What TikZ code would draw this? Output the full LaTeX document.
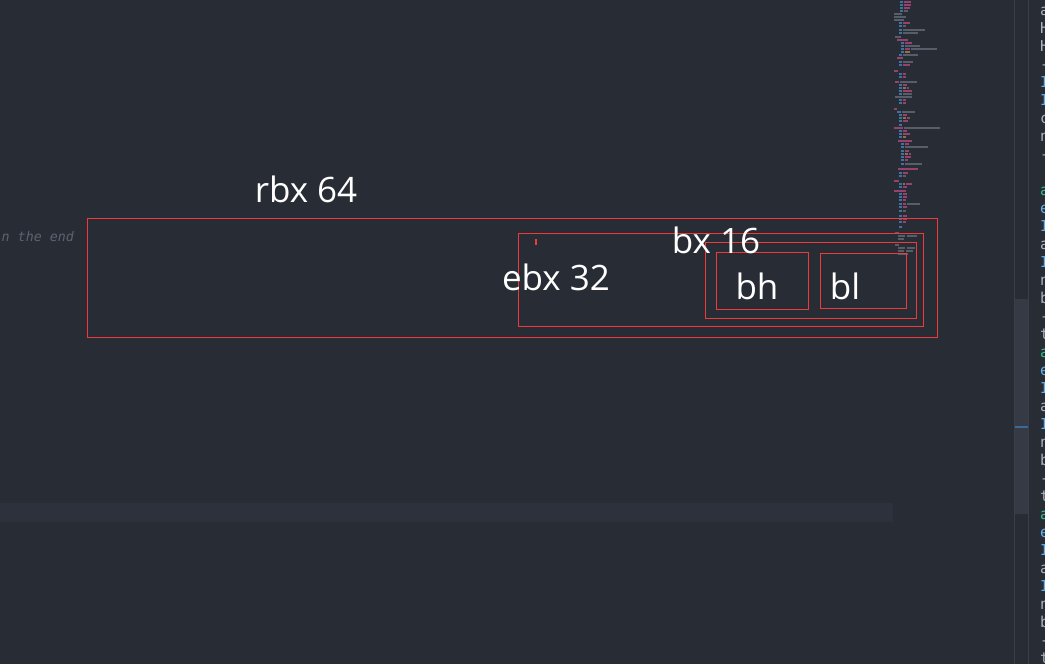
\documentclass[tikz,border=0pt]{standalone}
\usepackage{fontspec}
\newfontfamily\labfont{Open Sans}
\newfontfamily\codefont{DejaVu Sans Mono}
\definecolor{bg}{HTML}{282C34}
\definecolor{curline}{HTML}{2C313C}
\definecolor{sep}{HTML}{3B4048}
\definecolor{thumb}{HTML}{353A45}
\definecolor{thumbmark}{HTML}{3A6A9A}
\definecolor{boxred}{HTML}{EE3A3A}
\definecolor{cmt}{HTML}{5C6370}
\definecolor{txtgray}{HTML}{ABB2BF}
\definecolor{txtblue}{HTML}{61AFEF}
\definecolor{txtgreen}{HTML}{2BC28A}
\definecolor{mmblue}{HTML}{41719F}
\definecolor{mmpink}{HTML}{93436E}
\definecolor{mmgray}{HTML}{585E69}
\definecolor{mmorange}{HTML}{937049}
\begin{document}
\begin{tikzpicture}[x=1pt,y=-1pt,
  regbox/.style={draw=boxred,line width=1pt,inner sep=0pt,fill=none},
  reglabel/.style={text=white,font=\labfont\fontsize{35}{40}\selectfont,anchor=base,inner sep=0pt},
  codechar/.style={font=\codefont\fontsize{15}{18}\selectfont,anchor=base west,inner sep=0pt}]
\useasboundingbox (0,0) rectangle (1045,664);
\clip (0,0) rectangle (1045,664);
\fill[bg] (0,0) rectangle (1045,664);
% current line highlight
\fill[curline] (0,503) rectangle (893,522);
% scrollbar
\fill[thumb] (1014,299) rectangle (1028,514);
\fill[thumbmark] (1015,426) rectangle (1028,428);
\draw[sep,line width=1pt] (1014,0) -- (1014,664);
\draw[sep,line width=1pt] (1028,0) -- (1028,664);
% minimap
\foreach \yy/\xa/\xb/\cc in {
 1/900/903/mmblue, 1/904/911/mmpink, 4/900/903/mmblue, 4/904/911/mmpink, 7/900/903/mmblue, 7/904/910/mmpink,
 10/900/903/mmblue, 10/904/908/mmgray, 13/894/902/mmgray, 16/894/906/mmgray, 19/894/904/mmgray,
 22/899/902/mmblue, 22/903/910/mmpink, 25/899/902/mmblue, 25/903/906/mmgray,
 29/899/902/mmblue, 29/903/925/mmgray, 32/899/902/mmblue, 32/903/918/mmgray,
 36/895/901/mmgray, 39/897/908/mmpink,
 42/901/904/mmblue, 42/905/912/mmpink, 45/901/904/mmblue, 45/905/920/mmgray,
 48/901/904/mmblue, 48/905/910/mmpink, 48/911/937/mmgray, 51/901/904/mmblue, 51/905/910/mmorange,
 54/899/902/mmblue, 54/903/918/mmgray, 57/897/903/mmpink,
 61/899/902/mmblue, 61/903/913/mmgray, 64/899/902/mmblue, 64/903/910/mmpink,
 70/894/898/mmpink, 73/899/902/mmblue, 73/903/906/mmpink, 76/899/902/mmblue, 76/903/906/mmpink,
 81/895/899/mmpink, 81/900/917/mmgray, 84/899/902/mmblue, 84/903/907/mmpink,
 87/899/902/mmblue, 87/903/906/mmorange, 87/907/909/mmpink, 90/899/902/mmblue, 90/903/912/mmpink,
 93/899/902/mmblue, 93/903/912/mmgray, 96/895/912/mmgray, 99/899/902/mmblue, 99/903/906/mmpink,
 102/899/902/mmblue, 102/903/906/mmpink, 108/894/897/mmpink, 111/897/901/mmblue, 111/902/915/mmgray,
 114/899/902/mmblue, 114/903/907/mmpink, 117/899/902/mmblue, 117/903/906/mmorange, 117/907/910/mmpink,
 120/899/902/mmblue, 120/903/908/mmpink, 124/899/902/mmblue,
 127/894/903/mmpink, 127/904/940/mmgray, 130/899/902/mmblue, 130/903/907/mmpink,
 133/899/902/mmblue, 133/903/910/mmpink, 136/899/902/mmblue, 136/903/906/mmorange,
 140/898/912/mmpink, 143/901/904/mmblue, 143/905/909/mmpink, 146/901/904/mmblue, 146/905/928/mmgray,
 150/901/904/mmblue, 150/905/909/mmpink, 153/901/904/mmblue, 153/905/908/mmorange, 153/909/911/mmpink,
 156/901/904/mmblue, 156/905/911/mmpink, 159/901/904/mmblue, 159/905/908/mmpink,
 163/901/904/mmblue, 163/905/922/mmgray, 168/898/918/mmpink,
 172/899/902/mmblue, 172/903/908/mmpink, 175/899/902/mmblue, 175/903/906/mmgray,
 180/894/899/mmpink, 183/899/902/mmblue, 183/903/905/mmorange, 183/906/912/mmpink,
 186/899/902/mmblue, 186/903/907/mmpink, 190/894/906/mmpink,
 193/899/902/mmblue, 193/903/907/mmpink, 196/899/902/mmblue, 196/903/907/mmpink,
 199/899/902/mmblue, 199/903/906/mmpink, 203/899/902/mmblue, 203/903/906/mmpink, 203/907/920/mmgray,
 206/899/902/mmblue, 206/903/907/mmpink, 210/899/902/mmblue, 210/903/906/mmgray,
 215/899/902/mmblue, 215/903/907/mmpink, 218/899/902/mmblue, 218/903/907/mmpink,
 221/899/902/mmblue, 221/903/906/mmpink, 226/899/902/mmblue,
 232/895/899/mmgray, 235/898/905/mmgray, 235/907/917/mmgray, 238/898/904/mmgray,
 244/895/899/mmgray, 247/898/905/mmgray, 247/907/915/mmgray, 250/898/904/mmgray, 250/906/913/mmgray,
 253/898/908/mmgray}
  \fill[\cc] (\xa,\yy) rectangle (\xb,\yy+1.5);
% comment text at left
\node[font=\codefont\itshape\fontsize{13.3}{16}\selectfont,text=cmt,anchor=base east,inner sep=0pt] (cmt) at (74,241) {in the end};
% right pane code letters
\foreach \k/\ch/\cc in {0/a/txtgray,1/H/txtgray,2/H/txtgray,3/-/txtgray,4/I/txtblue,5/I/txtblue,6/c/txtgray,7/n/txtgray,8/-/txtgray,
  10/a/txtgreen,11/e/txtblue,12/I/txtblue,13/a/txtgray,14/I/txtblue,15/n/txtgray,16/b/txtgray,17/-/txtgray,18/t/txtgray,
  19/a/txtgreen,20/e/txtblue,21/I/txtblue,22/a/txtgray,23/I/txtblue,24/n/txtgray,25/b/txtgray,26/-/txtgray,27/t/txtgray,
  28/a/txtgreen,29/e/txtblue,30/I/txtblue,31/a/txtgray,32/I/txtblue,33/n/txtgray,34/b/txtgray,35/-/txtgray,36/t/txtgray}
  \node[codechar,text=\cc] (code\k) at (1040,15+18*\k) {\ch};
% register boxes
\node[regbox,minimum width=850pt,minimum height=119pt] (rbx) at (512,277.5) {};
\node[regbox,minimum width=405pt,minimum height=93pt] (ebx) at (720.5,279.5) {};
\node[regbox,minimum width=211pt,minimum height=76pt] (bx) at (810.5,280) {};
\node[regbox,minimum width=92pt,minimum height=57pt] (bh) at (762,280.5) {};
\node[regbox,minimum width=86pt,minimum height=55pt] (bl) at (863,280.5) {};
\coordinate (tickA) at (536,239);
\coordinate (tickB) at (536,245);
\draw[boxred,line width=1.6pt] (tickA) -- (tickB);
% labels
\node[reglabel] (rbxlab) at (306,202) {rbx 64};
\node[reglabel] (ebxlab) at (556,290) {ebx 32};
\node[reglabel] (bxlab) at (716,253) {bx 16};
\node[reglabel] (bhlab) at (757,299) {bh};
\node[reglabel] (bllab) at (845,299) {bl};
\end{tikzpicture}
\end{document}
